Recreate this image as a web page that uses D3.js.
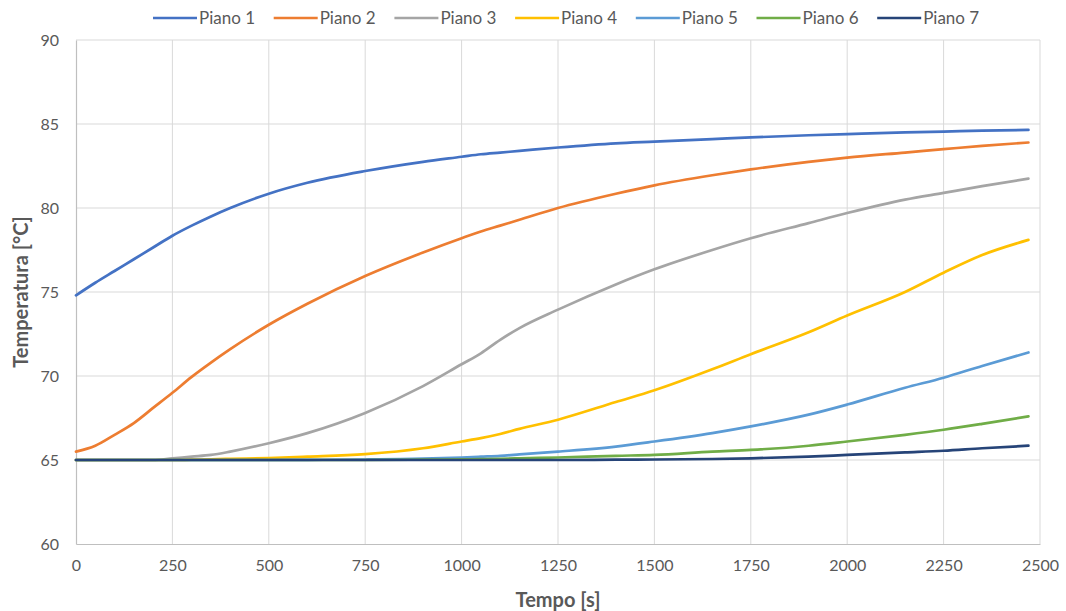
<!DOCTYPE html>
<html>
<head>
<meta charset="utf-8">
<script src="https://cdn.jsdelivr.net/npm/d3@7"></script>
<style>
  html, body { margin: 0; padding: 0; background: #fff; }
  svg { display: block; font-family: Lato, "Liberation Sans", sans-serif; }
</style>
</head>
<body>
<svg id="chart" width="1066" height="611"></svg>
<script>
// Sample times [s]
const times = [0, 50, 100, 150, 200, 250, 300, 350, 400, 500, 600, 750, 900, 1000, 1050, 1100, 1150, 1250, 1400, 1500, 1650, 1750, 1900, 2000, 2150, 2250, 2350, 2470];

// Temperature per floor [°C]
const piano1 = [74.8, 75.55, 76.25, 76.95, 77.65, 78.35, 78.95, 79.5, 80.0, 80.85, 81.5, 82.2, 82.75, 83.05, 83.2, 83.3, 83.4, 83.6, 83.85, 83.95, 84.1, 84.2, 84.33, 84.4, 84.5, 84.55, 84.6, 84.65];
const piano2 = [65.5, 65.85, 66.5, 67.2, 68.1, 69.0, 69.95, 70.8, 71.6, 73.05, 74.3, 75.95, 77.35, 78.2, 78.6, 78.95, 79.3, 80.0, 80.85, 81.35, 81.95, 82.3, 82.75, 83.0, 83.3, 83.5, 83.7, 83.9];
const piano3 = [65, 65, 65, 65, 65, 65.1, 65.2, 65.3, 65.5, 66.0, 66.6, 67.8, 69.4, 70.7, 71.35, 72.15, 72.85, 73.95, 75.45, 76.35, 77.5, 78.2, 79.1, 79.7, 80.5, 80.9, 81.3, 81.75];
const piano4 = [65, 65, 65, 65, 65, 65, 65.02, 65.04, 65.07, 65.12, 65.2, 65.35, 65.7, 66.1, 66.3, 66.55, 66.85, 67.4, 68.45, 69.15, 70.4, 71.3, 72.6, 73.6, 75.0, 76.15, 77.2, 78.1];
const piano5 = [65, 65, 65, 65, 65, 65, 65, 65, 65, 65, 65.01, 65.03, 65.08, 65.15, 65.2, 65.25, 65.33, 65.5, 65.8, 66.1, 66.6, 67.0, 67.7, 68.3, 69.3, 69.9, 70.6, 71.4];
const piano6 = [65, 65, 65, 65, 65, 65, 65, 65, 65, 65, 65, 65, 65.02, 65.04, 65.05, 65.07, 65.1, 65.15, 65.25, 65.3, 65.5, 65.6, 65.85, 66.1, 66.5, 66.8, 67.15, 67.6];
const piano7 = [65, 65, 65, 65, 65, 65, 65, 65, 65, 65, 65, 65, 65, 65, 65, 65, 65, 65, 65.02, 65.03, 65.06, 65.1, 65.2, 65.3, 65.45, 65.55, 65.7, 65.85];

const seriesNames = ["Piano 1", "Piano 2", "Piano 3", "Piano 4", "Piano 5", "Piano 6", "Piano 7"];
const seriesValues = [piano1, piano2, piano3, piano4, piano5, piano6, piano7];
const seriesColors = ["#4472C4", "#ED7D31", "#A5A5A5", "#FFC000", "#5B9BD5", "#70AD47", "#264478"];

const xTicks = [0, 250, 500, 750, 1000, 1250, 1500, 1750, 2000, 2250, 2500];
const yTicks = [60, 65, 70, 75, 80, 85, 90];

const svg = d3.select("#chart");
const plotLeft = 76, plotRight = 1040, plotTop = 40, plotBottom = 544;

const x = d3.scaleLinear().domain([0, 2500]).range([plotLeft, plotRight]);
const y = d3.scaleLinear().domain([60, 90]).range([plotBottom, plotTop]);

const textColor = "#595959";
const gridColor = "#d9d9d9";

// Gridlines
svg.append("g").selectAll("line").data(xTicks.slice(1)).join("line")
  .attr("x1", d => x(d)).attr("x2", d => x(d))
  .attr("y1", plotTop).attr("y2", plotBottom)
  .attr("stroke", gridColor).attr("stroke-width", 1);
svg.append("g").selectAll("line").data(yTicks.slice(1)).join("line")
  .attr("x1", plotLeft).attr("x2", plotRight)
  .attr("y1", d => y(d)).attr("y2", d => y(d))
  .attr("stroke", gridColor).attr("stroke-width", 1);

// Axes
const xAxis = svg.append("g").attr("transform", `translate(0,${plotBottom})`)
  .call(d3.axisBottom(x).tickValues(xTicks).tickSize(0).tickPadding(16).tickFormat(d3.format("d")));
const yAxis = svg.append("g").attr("transform", `translate(${plotLeft},0)`)
  .call(d3.axisLeft(y).tickValues(yTicks).tickSize(0).tickPadding(17).tickFormat(d3.format("d")));
[xAxis, yAxis].forEach(a => {
  a.select(".domain").attr("stroke", "#bfbfbf").attr("stroke-width", 1.2);
  a.selectAll("text").attr("fill", textColor).style("font-size", "16px")
    .style("font-family", "Lato, 'Liberation Sans', sans-serif");
});

// Axis titles
svg.append("text")
  .attr("x", 558).attr("y", 607)
  .attr("text-anchor", "middle")
  .attr("fill", textColor).style("font-size", "20px").style("font-weight", "bold")
  .text("Tempo [s]");
svg.append("text")
  .attr("transform", `translate(28,${(plotTop + plotBottom) / 2}) rotate(-90)`)
  .attr("text-anchor", "middle")
  .attr("fill", textColor).style("font-size", "20px").style("font-weight", "bold")
  .text("Temperatura [°C]");

// Lines
const line = d3.line()
  .x(d => x(d[0])).y(d => y(d[1]))
  .curve(d3.curveMonotoneX);

svg.append("g").selectAll("path").data(seriesValues).join("path")
  .attr("d", vals => line(times.map((t, i) => [t, vals[i]])))
  .attr("fill", "none")
  .attr("stroke", (d, i) => seriesColors[i])
  .attr("stroke-width", 2.7)
  .attr("stroke-linecap", "round");

// Legend
const legend = svg.append("g");
const itemStart = 153, itemStep = 120.7, legendY = 18;
seriesNames.forEach((name, i) => {
  const gx = itemStart + i * itemStep;
  legend.append("line")
    .attr("x1", gx).attr("x2", gx + 44)
    .attr("y1", legendY).attr("y2", legendY)
    .attr("stroke", seriesColors[i]).attr("stroke-width", 2.7);
  legend.append("text")
    .attr("x", gx + 46).attr("y", legendY + 6)
    .attr("fill", textColor).style("font-size", "17px")
    .text(name);
});
</script>
</body>
</html>
